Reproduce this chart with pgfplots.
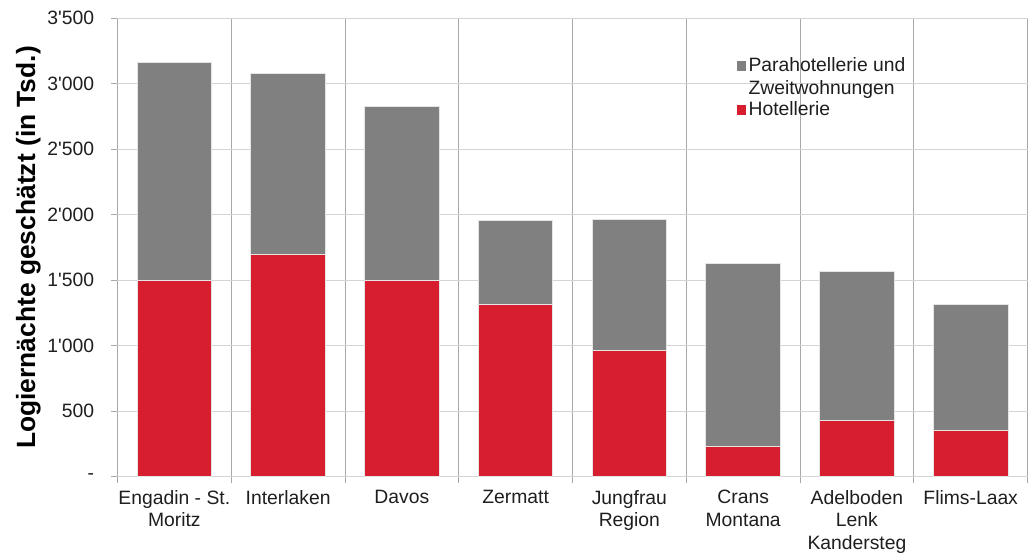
\documentclass[border=0pt]{standalone}
\usepackage{pgfplots}
\pgfplotsset{compat=1.18}
\usepackage{fontspec}
\setmainfont{Liberation Sans}
\definecolor{hotred}{RGB}{214,30,46}
\definecolor{paragray}{RGB}{128,128,128}
\definecolor{vgrid}{RGB}{168,168,168}
\definecolor{hgrid}{RGB}{212,212,212}
\definecolor{txt}{RGB}{30,30,30}
\pgfplotsset{
  sqimg/.style={legend image code/.code={\path[##1, draw=none] (0pt,-3.5pt) rectangle (7pt,3.5pt);}},
  sqimgup/.style={legend image code/.code={\path[##1, draw=none] (0pt,5pt) rectangle (7pt,12pt);}},
}
\begin{document}
\begin{tikzpicture}
\begin{axis}[
  scale only axis,
  width=683pt, height=344pt,
  ybar stacked,
  bar width=56pt,
  xmin=-0.5, xmax=7.5,
  ymin=0, ymax=3500,
  xtick={-0.5,0.5,...,7.5},
  xticklabels={},
  xmajorgrids=true,
  every axis x grid/.append style={vgrid, line width=0.6pt},
  every axis y grid/.append style={hgrid, line width=0.8pt},
  extra x ticks={0,1,2,3,4,5,6,7},
  extra x tick labels={{Engadin - St.\\Moritz},Interlaken,Davos,Zermatt,{Jungfrau\\Region},{Crans\\Montana},{Adelboden\\Lenk\\Kandersteg},Flims-Laax},
  extra x tick style={major tick length=0pt, grid=none},
  ytick={0,500,...,3500},
  yticklabels={-,500,1\textquotesingle000,1\textquotesingle500,2\textquotesingle000,2\textquotesingle500,3\textquotesingle000,3\textquotesingle500},
  ymajorgrids=true,
  tick align=outside,
  tick pos=left,
  major tick length=4.5pt,
  tick style={vgrid, line width=0.6pt},
  axis line style={draw=none},
  tick label style={font=\fontsize{14.5}{17}\selectfont, text=txt},
  xticklabel style={align=center, yshift=-6.5pt},
  yticklabel style={xshift=-9.5pt},
  title={~},
  title style={at={(0.5,1)}, anchor=south, inner sep=0pt, minimum height=7.5pt, font=\tiny},
  ylabel={\textbf{Logiernächte geschätzt (in Tsd.)}},
  ylabel style={font=\fontsize{19.8}{22}\selectfont, text=black, inner ysep=12pt, yshift=-10.5pt},
  legend style={at={(0.68,0.92)}, anchor=north west, draw=none, fill=none,
    font=\fontsize{14.5}{17}\selectfont, text=txt,
    cells={align=left, anchor=west}, row sep=0pt, inner sep=0pt},
  reverse legend,
]
\addplot[fill=hotred, draw=gray!20, line width=0.7pt, sqimg] coordinates {
  (0,1500) (1,1700) (2,1500) (3,1315) (4,960) (5,230) (6,430) (7,350)};
\addplot[fill=paragray, draw=gray!20, line width=0.7pt, sqimgup] coordinates {
  (0,1665) (1,1380) (2,1325) (3,640) (4,1000) (5,1400) (6,1135) (7,965)};
\legend{Hotellerie, {Parahotellerie und\\Zweitwohnungen}}
\end{axis}
\end{tikzpicture}
\end{document}
